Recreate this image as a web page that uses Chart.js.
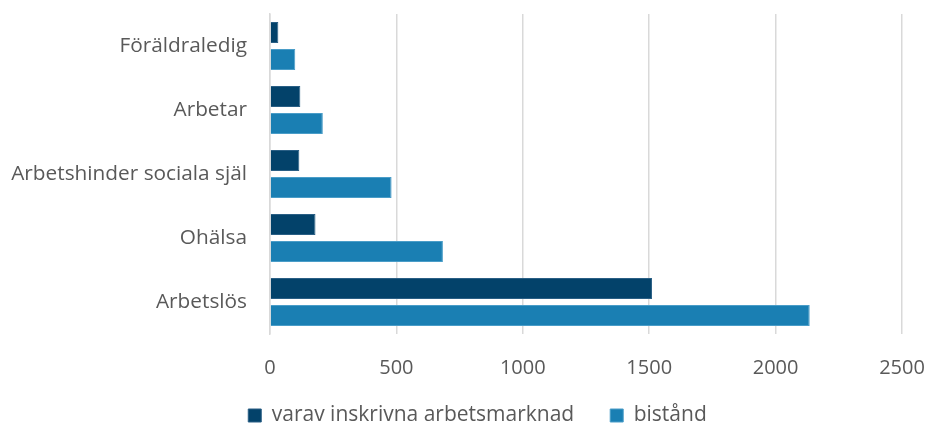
<!DOCTYPE html>
<html>
<head>
<meta charset="utf-8">
<script src="https://cdn.jsdelivr.net/npm/chart.js@4"></script>
<style>
  html, body { margin: 0; padding: 0; background: #fff; }
  #wrap { width: 925px; height: 427px; }
</style>
</head>
<body>
<div id="wrap"><canvas id="grafik"></canvas></div>
<script>
const kategorier = ['Föräldraledig', 'Arbetar', 'Arbetshinder sociala själ', 'Ohälsa', 'Arbetslös'];
const varavInskrivna = [33, 120, 116, 180, 1511];
const bistand = [100, 209, 481, 684, 2135];
const xTicks = [0, 500, 1000, 1500, 2000, 2500];

const textFarg = '#595959';
const fontFam = '"Open Sans", "Liberation Sans", sans-serif';

// skalans etiketter ska inte klippas mot skalans egen ruta
const ingenKlipp = () => undefined;

new Chart(document.getElementById('grafik'), {
    type: 'bar',
    data: {
        labels: kategorier,
        datasets: [{
            label: 'varav inskrivna arbetsmarknad',
            data: varavInskrivna,
            backgroundColor: '#03426a',
            borderColor: '#2a5f85',
            borderWidth: 1,
            categoryPercentage: 0.84,
            barPercentage: 0.78
        }, {
            label: 'bistånd',
            data: bistand,
            backgroundColor: '#1a7fb3',
            borderColor: '#4a9dc8',
            borderWidth: 1,
            categoryPercentage: 0.84,
            barPercentage: 0.78
        }]
    },
    options: {
        indexAxis: 'y',
        responsive: true,
        maintainAspectRatio: false,
        animation: false,
        layout: { padding: { top: 14, right: 0, left: 30, bottom: -9 } },
        plugins: {
            tooltip: { enabled: false },
            legend: {
                position: 'bottom',
                labels: {
                    color: textFarg,
                    font: { family: fontFam, size: 21 },
                    boxWidth: 13,
                    boxHeight: 13,
                    padding: 36
                }
            }
        },
        scales: {
            x: {
                min: 0,
                max: 2500,
                afterBuildTicks: (s) => { s.ticks = xTicks.map(v => ({ value: v })); },
                afterFit: (s) => {
                    s.height = 35;
                    s.paddingLeft = 0;
                    s.paddingRight = 23;
                    s._computeLabelArea = ingenKlipp;
                },
                grid: { color: '#d9d9d9', lineWidth: 1.5, drawTicks: false },
                border: { display: false },
                ticks: {
                    color: textFarg,
                    font: { family: fontFam, size: 20 },
                    padding: 22,
                    callback: (v) => String(v)
                }
            },
            y: {
                afterFit: (s) => {
                    s.width = 240;
                    s.paddingTop = 0;
                    s.paddingBottom = 0;
                    s._computeLabelArea = ingenKlipp;
                },
                grid: { display: false },
                border: { display: true, color: '#d9d9d9', width: 1.5 },
                ticks: {
                    color: textFarg,
                    font: { family: fontFam, size: 20.8 },
                    padding: 15
                }
            }
        }
    }
});
</script>
</body>
</html>
